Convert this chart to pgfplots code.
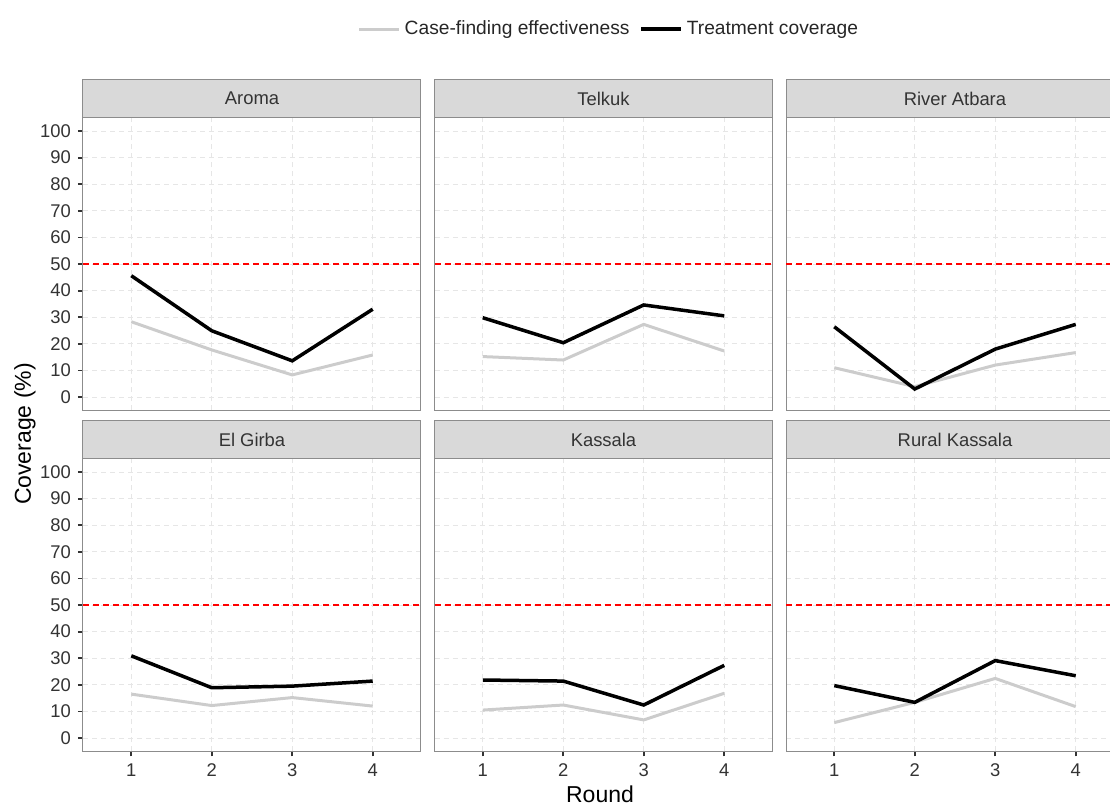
\documentclass[border=0pt]{standalone}
\usepackage{pgfplots}
\pgfplotsset{compat=1.18}
\usepackage{fontspec}
\setmainfont{Liberation Sans}
\definecolor{cfe}{HTML}{CCCCCC}
\definecolor{stripc}{HTML}{D9D9D9}
\definecolor{framec}{HTML}{8C8C8C}
\definecolor{txt}{HTML}{333333}
\definecolor{gridc}{HTML}{E6E6E6}
\pgfplotsset{
  panel/.style={
    scale only axis, width=169pt, height=146.3pt,
    xmin=0.4, xmax=4.6, ymin=-5, ymax=105,
    xtick={1,2,3,4}, ytick={0,10,...,100},
    grid=major, major grid style={gridc, dash pattern=on 2.5pt off 2pt, line width=0.4pt},
    axis line style={framec, line width=0.5pt},
    tick align=outside, major tick length=2.5pt,
    tick style={txt, line width=0.9pt},
    xtick pos=bottom, ytick pos=left,
    ticklabel style={font=\fontsize{9.2}{10}\selectfont, text=txt},
    /pgf/number format/assume math mode=true,
    clip=false, anchor=north west,
  },
  notx/.style={xticklabels={}, xtick style={draw=none}},
  noty/.style={yticklabels={}, ytick style={draw=none}},
  cfeline/.style={cfe, line width=1.5pt, no markers},
  tcline/.style={black, line width=1.75pt, no markers},
  refline/.style={red, line width=1pt, dash pattern=on 3pt off 2pt, forget plot},
}
\newcommand{\strip}[1]{%
  \draw[fill=stripc, draw=framec, line width=0.5pt] (rel axis cs:0,1) rectangle (rel axis cs:1,1.13);
  \node[font=\fontsize{9.2}{10}\selectfont, text=txt] at (rel axis cs:0.5,1.065) {#1};}
\begin{document}
\begin{tikzpicture}
\path[use as bounding box] (0,0) rectangle (555pt,-402pt);
% Aroma
\begin{axis}[panel, notx, at={(41.5pt,-58.85pt)},
  legend columns=2,
  legend style={at={(1.559,1.303)}, anchor=center, draw=none, fill=none,
    font=\fontsize{9.6}{10}\selectfont, text=black!85,
    /tikz/every even column/.append style={column sep=3pt}},
  legend image code/.code={\draw[#1] (0cm,0cm) -- (0.7cm,0cm);}]
\strip{Aroma}
\addplot[refline] coordinates {(0.4,50) (4.6,50)};
\addplot[cfeline] coordinates {(1,28.3) (2,17.7) (3,8.3) (4,15.8)};
\addplot[tcline] coordinates {(1,45.6) (2,24.9) (3,13.6) (4,33.0)};
\legend{Case-finding effectiveness, Treatment coverage}
\end{axis}
% Telkuk
\begin{axis}[panel, notx, noty, at={(217.25pt,-58.85pt)}]
\strip{Telkuk}
\addplot[refline] coordinates {(0.4,50) (4.6,50)};
\addplot[cfeline] coordinates {(1,15.2) (2,13.9) (3,27.3) (4,17.3)};
\addplot[tcline] coordinates {(1,29.8) (2,20.4) (3,34.6) (4,30.5)};
\end{axis}
% River Atbara
\begin{axis}[panel, notx, noty, at={(393pt,-58.85pt)}]
\strip{River Atbara}
\addplot[refline] coordinates {(0.4,50) (4.6,50)};
\addplot[cfeline] coordinates {(1,11.0) (2,3.9) (3,12.0) (4,16.7)};
\addplot[tcline] coordinates {(1,26.4) (2,3.0) (3,18.0) (4,27.3)};
\end{axis}
% El Girba
\begin{axis}[panel, at={(41.5pt,-229.35pt)}]
\strip{El Girba}
\addplot[refline] coordinates {(0.4,50) (4.6,50)};
\addplot[cfeline] coordinates {(1,16.5) (2,12.2) (3,15.2) (4,12.0)};
\addplot[tcline] coordinates {(1,30.9) (2,18.9) (3,19.5) (4,21.4)};
\end{axis}
% Kassala
\begin{axis}[panel, noty, at={(217.25pt,-229.35pt)}]
\strip{Kassala}
\addplot[refline] coordinates {(0.4,50) (4.6,50)};
\addplot[cfeline] coordinates {(1,10.5) (2,12.4) (3,6.8) (4,16.8)};
\addplot[tcline] coordinates {(1,21.8) (2,21.4) (3,12.4) (4,27.3)};
\end{axis}
% Rural Kassala
\begin{axis}[panel, noty, at={(393pt,-229.35pt)}]
\strip{Rural Kassala}
\addplot[refline] coordinates {(0.4,50) (4.6,50)};
\addplot[cfeline] coordinates {(1,5.8) (2,13.4) (3,22.4) (4,11.8)};
\addplot[tcline] coordinates {(1,19.7) (2,13.4) (3,29.1) (4,23.4)};
\end{axis}
\node[rotate=90, font=\fontsize{11.5}{13}\selectfont, text=black] at (12.5pt,-217pt) {Coverage (\%)};
\node[font=\fontsize{11.5}{13}\selectfont, text=black] at (300pt,-397pt) {Round};
\end{tikzpicture}
\end{document}
